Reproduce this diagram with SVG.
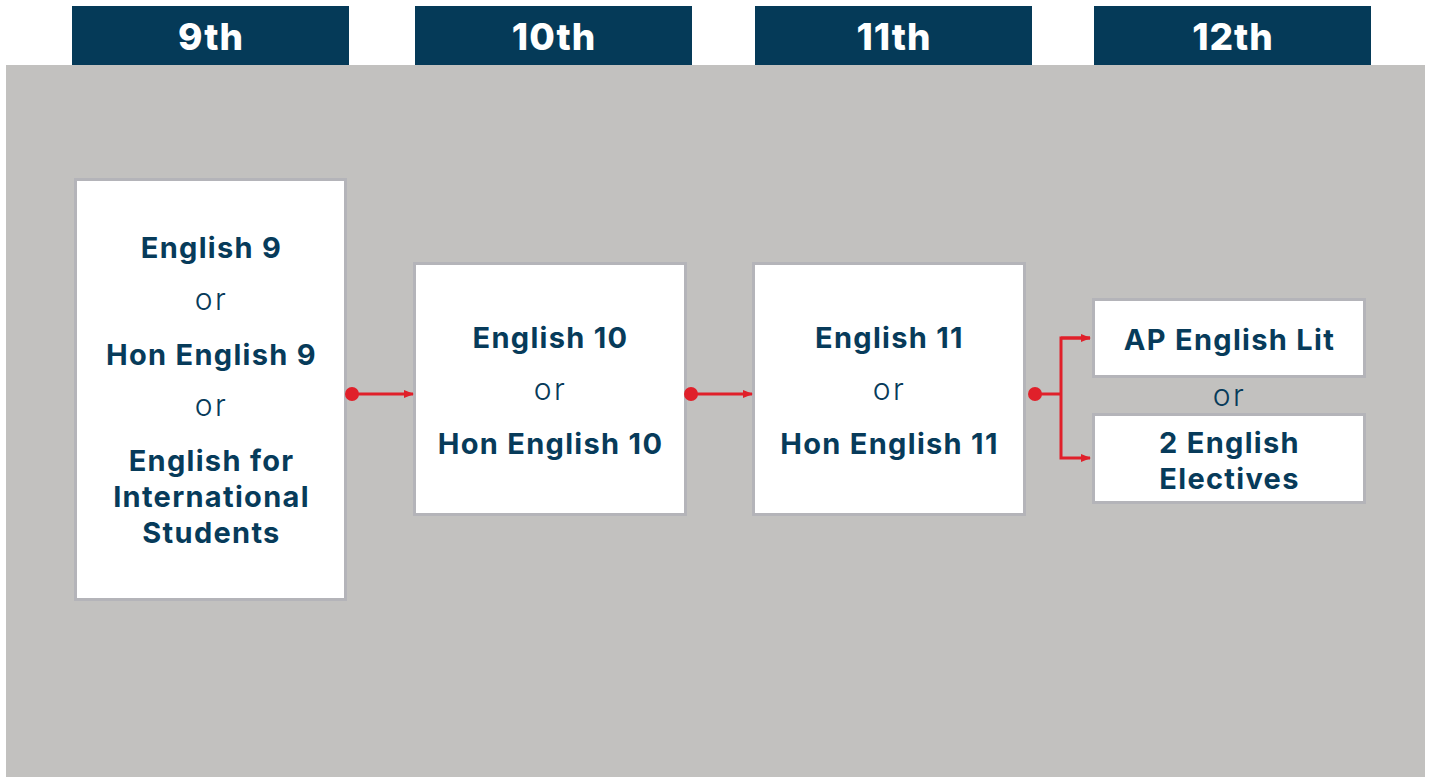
<svg xmlns="http://www.w3.org/2000/svg" width="1430" height="777" viewBox="0 0 1430 777">
<style>
.hdr{fill:#053a58}
.ht{font-family:Inter,"Open Sans",sans-serif;font-weight:800;font-size:37px;fill:#fff;text-anchor:middle;letter-spacing:1px}
.box{fill:#fff;stroke:#b4b4b9;stroke-width:3}
.t{font-family:Inter,"Open Sans",sans-serif;font-weight:700;font-size:29px;fill:#073b5a;text-anchor:middle;letter-spacing:1.3px}
.or{font-family:Inter,"Open Sans",sans-serif;font-weight:300;font-size:30px;fill:#073b5a;text-anchor:middle;letter-spacing:2.5px}
.c{stroke:#e0202a;stroke-width:3;fill:none}
</style>
<defs>
<marker id="ah" markerWidth="10" markerHeight="8" refX="9" refY="4" orient="auto" markerUnits="userSpaceOnUse">
<path d="M0,0 L10,4 L0,8 Z" fill="#e0202a"/>
</marker>
</defs>
<rect x="0" y="0" width="1430" height="777" fill="#fff"/>
<rect x="6" y="65" width="1419" height="712" fill="#c2c1bf"/>
<g id="headers">
<rect class="hdr" x="72" y="6" width="277" height="59"/>
<text class="ht" x="211" y="50">9th</text>
<rect class="hdr" x="415" y="6" width="277" height="59"/>
<text class="ht" x="554" y="50">10th</text>
<rect class="hdr" x="755" y="6" width="277" height="59"/>
<text class="ht" x="894" y="50">11th</text>
<rect class="hdr" x="1094" y="6" width="277" height="59"/>
<text class="ht" x="1233" y="50">12th</text>
</g>
<g id="node9">
<rect class="box" x="75.5" y="179.5" width="270" height="420"/>
<text class="t" x="211.5" y="258">English 9</text>
<text class="or" x="211.5" y="310">or</text>
<text class="t" x="211.5" y="365">Hon English 9</text>
<text class="or" x="211.5" y="416">or</text>
<text class="t" x="211.5" y="471">English for</text>
<text class="t" x="211.5" y="507">International</text>
<text class="t" x="211.5" y="543">Students</text>
</g>
<g id="node10">
<rect class="box" x="414.5" y="263.5" width="271" height="251"/>
<text class="t" x="550.5" y="348">English 10</text>
<text class="or" x="550.5" y="400">or</text>
<text class="t" x="550.5" y="454">Hon English 10</text>
</g>
<g id="node11">
<rect class="box" x="753.5" y="263.5" width="271" height="251"/>
<text class="t" x="889.5" y="348">English 11</text>
<text class="or" x="889.5" y="400">or</text>
<text class="t" x="889.5" y="454">Hon English 11</text>
</g>
<g id="node12a">
<rect class="box" x="1093.5" y="299.5" width="271" height="77"/>
<text class="t" x="1229.5" y="350">AP English Lit</text>
</g>
<text class="or" x="1229.5" y="406">or</text>
<g id="node12b">
<rect class="box" x="1093.5" y="414.5" width="271" height="88"/>
<text class="t" x="1229.5" y="453">2 English</text>
<text class="t" x="1229.5" y="489">Electives</text>
</g>
<g id="connectors">
<circle cx="352" cy="394" r="7" fill="#e0202a"/>
<path class="c" d="M352,394 H413" marker-end="url(#ah)"/>
<circle cx="691" cy="394" r="7" fill="#e0202a"/>
<path class="c" d="M691,394 H752" marker-end="url(#ah)"/>
<circle cx="1035" cy="394" r="7" fill="#e0202a"/>
<path class="c" d="M1035,394 H1061"/>
<path class="c" d="M1090,338 H1061 V458 H1090" marker-end="url(#ah)"/>
<path class="c" d="M1061,338 H1090" marker-end="url(#ah)"/>
</g>
</svg>
